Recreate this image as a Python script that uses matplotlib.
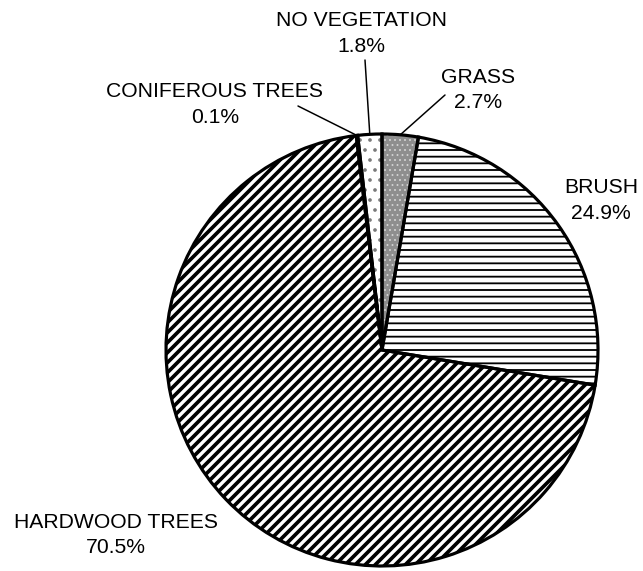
import numpy as np
import matplotlib
matplotlib.use('Agg')
import matplotlib.pyplot as plt

# Land cover shares, clockwise from 12 o'clock
categories = ['GRASS', 'BRUSH', 'HARDWOOD TREES', 'CONIFEROUS TREES', 'NO VEGETATION']
shares = [2.7, 24.9, 70.5, 0.1, 1.8]
pct_labels = [f'{v}%' for v in shares]

# Styling per slice
face_colors = ['#8e8e8e', 'white', 'white', 'white', 'white']
hatch_colors = ['#d0d0d0', 'black', 'black', 'black', '#7a7a7a']
hatches = ['....', '---', '////', '', '..']
hatch_widths = [0.6, 1.1, 2.2, 1.0, 1.0]

# Label layout in output pixels: (center x, baseline of name, baseline of pct)
label_pos = [(478, 83, 108), (601, 193, 219), (116, 528, 553),
             (215, 97, 123), (361, 26, 52)]
# leader line start (pixels) for slices that have one, None otherwise
leader_start = [(445, 95), None, None, (298, 106), (365, 60)]

plt.rcParams['font.family'] = ['Liberation Sans', 'DejaVu Sans']

W, H, DPI = 643, 571, 120
fig = plt.figure(figsize=(W / DPI, H / DPI), dpi=DPI)

# pie centre (382, 350) px, radius 216 px
cx, cy, r = 382, 350, 216
ax = fig.add_axes([(cx - r) / W, (H - cy - r) / H, 2 * r / W, 2 * r / H])


def with_hatch_lw(draw_fn, lw):
    # draw one patch with its own hatch line width
    def draw(renderer):
        with plt.rc_context({'hatch.linewidth': lw}):
            draw_fn(renderer)
    return draw


# fill + hatch layer
wedges, _ = ax.pie(shares, startangle=90, counterclock=False, radius=1,
                   wedgeprops=dict(linewidth=0))
for w, fc, hc, h, hw in zip(wedges, face_colors, hatch_colors, hatches, hatch_widths):
    w.set_facecolor(fc)
    w.set_edgecolor(hc)
    w.set_hatch(h)
    if hasattr(w, 'set_hatch_linewidth'):
        w.set_hatch_linewidth(hw)
    w.draw = with_hatch_lw(w.draw, hw)
    w.set_clip_on(False)

# outline layer
outlines, _ = ax.pie(shares, startangle=90, counterclock=False, radius=1,
                     wedgeprops=dict(fill=False, edgecolor='black', linewidth=1.9))
for w in outlines:
    w.set_clip_on(False)

ax.set_xlim(-1, 1)
ax.set_ylim(-1, 1)
ax.axis('off')

for i, w in enumerate(wedges):
    x, y0, y1 = label_pos[i]
    fig.text(x / W, 1 - y0 / H, categories[i], ha='center', va='baseline',
             fontsize=12.7, color='black')
    fig.text(x / W, 1 - y1 / H, pct_labels[i], ha='center', va='baseline',
             fontsize=12.7, color='black')
    if leader_start[i] is not None:
        mid = np.deg2rad((w.theta1 + w.theta2) / 2)
        sx, sy = leader_start[i]
        ax.annotate('', xy=(np.cos(mid), np.sin(mid)), xycoords='data',
                    xytext=(sx, H - sy), textcoords='figure pixels',
                    arrowprops=dict(arrowstyle='-', color='black', lw=0.9,
                                    shrinkA=0, shrinkB=0))

fig.savefig('out.png', dpi=DPI)
